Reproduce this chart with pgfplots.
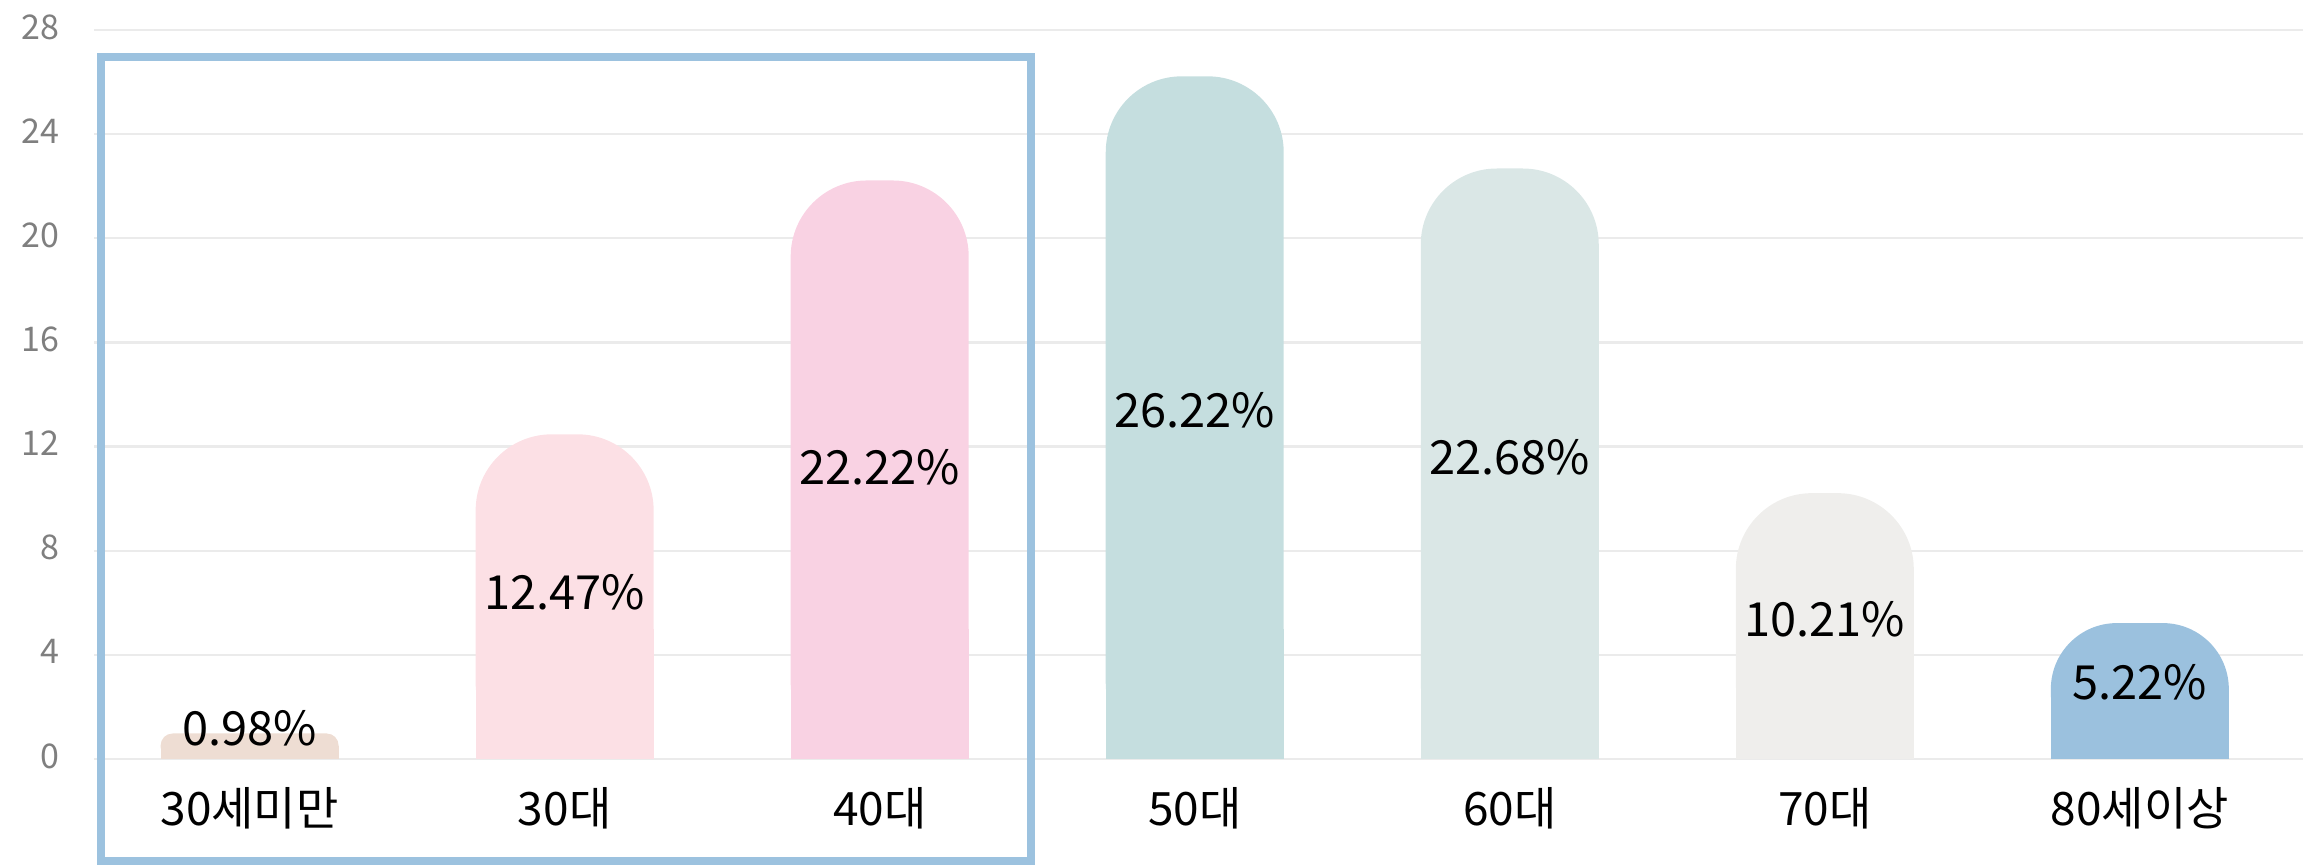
\documentclass[border=0pt]{standalone}
\usepackage{pgfplots}
\pgfplotsset{compat=1.18}
\usepackage{fontspec}
\setmainfont{Noto Sans CJK KR}
\definecolor{cA}{HTML}{EEDDD3}
\definecolor{cB}{HTML}{FCE0E5}
\definecolor{cC}{HTML}{F9D2E3}
\definecolor{cD}{HTML}{C5DEDF}
\definecolor{cE}{HTML}{DAE7E6}
\definecolor{cF}{HTML}{EFEEEC}
\definecolor{cG}{HTML}{9BC1DE}
\definecolor{boxc}{HTML}{9CC2DF}
\definecolor{gridc}{HTML}{EBEBEB}
\definecolor{tickc}{HTML}{7F7F7F}
\pgfplotsset{
  topbar/.style={ybar, bar width=89pt, bar shift=0pt, draw=none, rounded corners=#1},
  basebar/.style={ybar, bar width=89pt, bar shift=0pt, draw=none, sharp corners},
}
\begin{document}
\begin{tikzpicture}[x=1pt,y=1pt]
\useasboundingbox (0,0) rectangle (1151.5,432.5);
\begin{axis}[
  at={(47pt,53pt)}, anchor=south west,
  scale only axis, width=1104.5pt, height=364.5pt,
  xmin=-0.494, xmax=6.518, ymin=0, ymax=28,
  ytick={0,4,...,28},
  xtick={0,...,6},
  xticklabels={30세미만,30대,40대,50대,60대,70대,80세이상},
  axis line style={draw=none},
  tick style={draw=none},
  major tick length=0pt,
  ymajorgrids, grid style={color=gridc, line width=1.2pt},
  /pgf/number format/assume math mode=true,
  yticklabel style={font=\fontsize{17}{17}\selectfont, text=tickc, anchor=east, inner sep=0pt, xshift=-17pt, yshift=1.5pt},
  xticklabel style={font=\fontsize{23}{23}\selectfont, text=black, anchor=center, inner sep=0pt, yshift=-24.5pt},
  clip=false,
]
% bars with rounded tops, squared bottoms
\addplot[topbar=6pt, fill=cA] coordinates {(0,0.98)};
\addplot[basebar, fill=cA] coordinates {(0,0.49)};
\addplot[topbar=38pt, fill=cB] coordinates {(1,12.47)};
\addplot[basebar, fill=cB] coordinates {(1,5)};
\addplot[topbar=38pt, fill=cC] coordinates {(2,22.22)};
\addplot[basebar, fill=cC] coordinates {(2,5)};
\addplot[topbar=38pt, fill=cD] coordinates {(3,26.22)};
\addplot[basebar, fill=cD] coordinates {(3,5)};
\addplot[topbar=38pt, fill=cE] coordinates {(4,22.68)};
\addplot[basebar, fill=cE] coordinates {(4,5)};
\addplot[topbar=38pt, fill=cF] coordinates {(5,10.21)};
\addplot[basebar, fill=cF] coordinates {(5,4)};
\addplot[topbar=33pt, fill=cG] coordinates {(6,5.22)};
\addplot[basebar, fill=cG] coordinates {(6,2.61)};
% value labels
\addplot[only marks, mark=none, nodes near coords={\pgfplotspointmeta\%},
  point meta=explicit symbolic,
  every node near coord/.append style={anchor=center, inner sep=0pt, text=black, font=\fontsize{23.5}{23.5}\selectfont}]
  table[x=x, y=y, meta=lab] {
x y lab
0 1.17 0.98
1 6.42 12.47
2 11.21 22.22
3 13.40 26.22
4 11.60 22.68
5 5.35 10.21
6 2.93 5.22
};
\draw[color=boxc, line width=4pt] (axis cs:-0.473,-3.92) rectangle (axis cs:2.48,26.98);
\end{axis}
\end{tikzpicture}
\end{document}
